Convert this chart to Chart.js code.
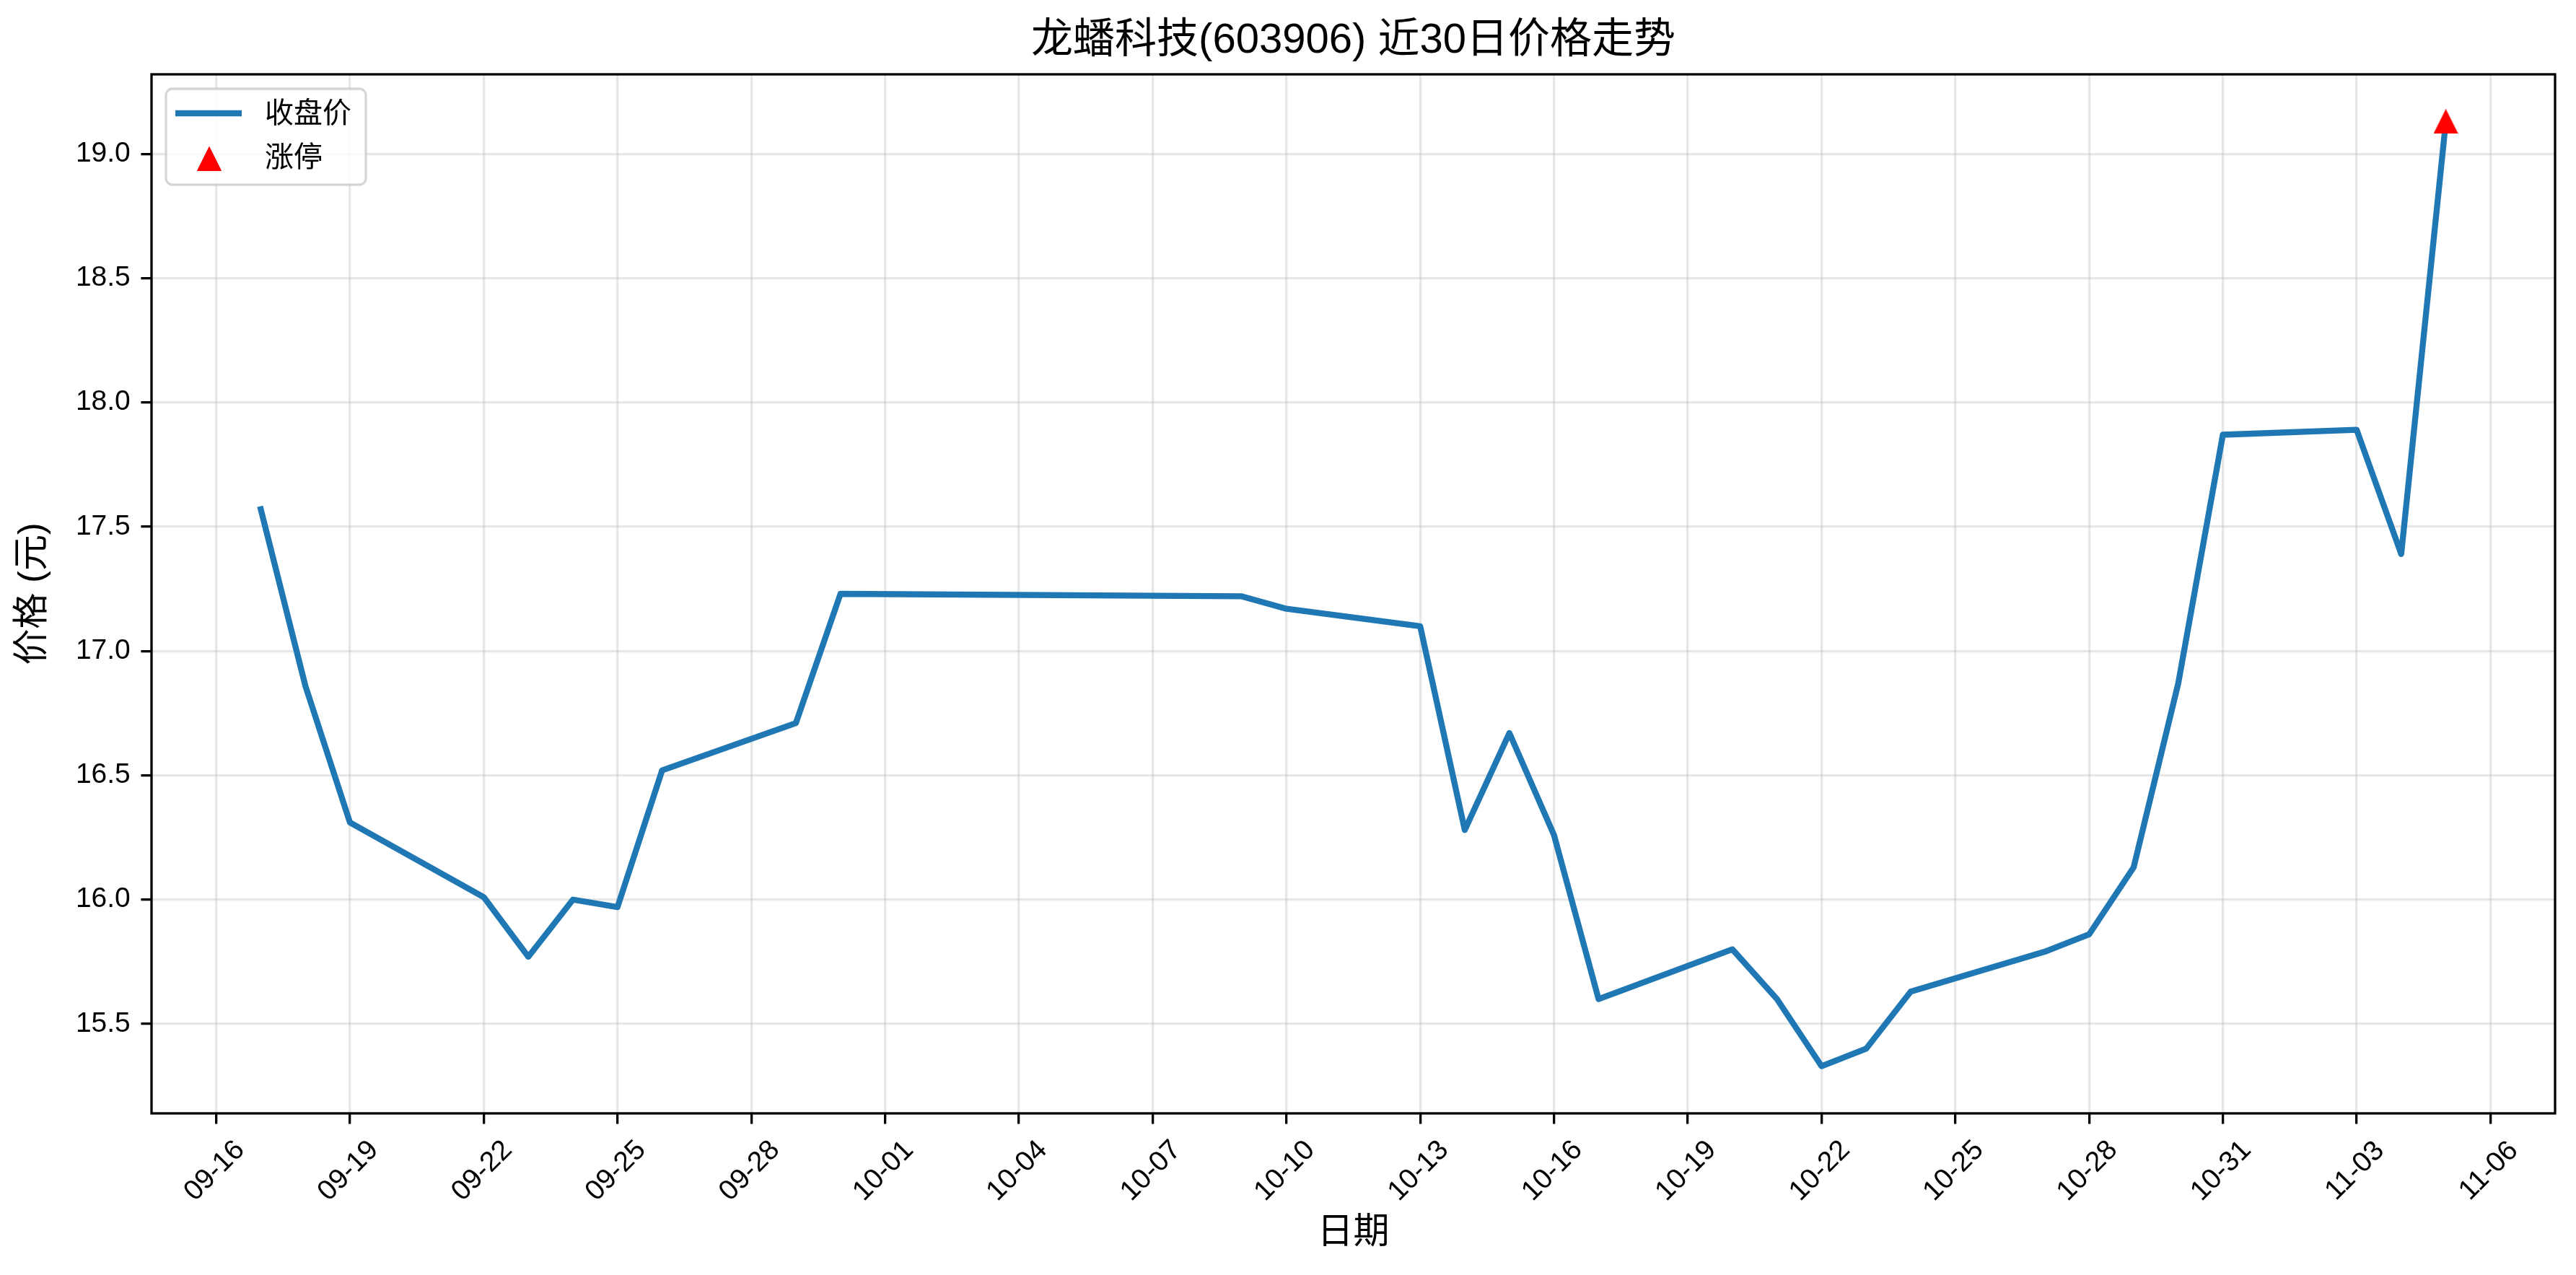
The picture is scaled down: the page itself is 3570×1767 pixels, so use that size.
<html>
<head>
<meta charset="utf-8">
<script src="https://cdn.jsdelivr.net/npm/chart.js"></script>
<style>
  body { margin: 0; background: #fff; }
</style>
</head>
<body>
<canvas id="myChart" width="3570" height="1767"></canvas>
<script>
// trading days and closing prices
const dates = ['09-17','09-18','09-19','09-22','09-23','09-24','09-25','09-26','09-29','09-30',
               '10-09','10-10','10-13','10-14','10-15','10-16','10-17','10-20','10-21','10-22',
               '10-23','10-24','10-27','10-28','10-29','10-30','10-31','11-03','11-04','11-05'];
const closes = [17.57, 16.86, 16.31, 16.01, 15.77, 16.00, 15.97, 16.52, 16.71, 17.23,
                17.22, 17.17, 17.10, 16.28, 16.67, 16.26, 15.60, 15.80, 15.60, 15.33,
                15.40, 15.63, 15.79, 15.86, 16.13, 16.87, 17.87, 17.89, 17.39, 19.13];
// limit-up days
const limitUpDates = ['11-05'];
const limitUpPrices = [19.13];
// axis ticks
const xTickLabels = ['09-16','09-19','09-22','09-25','09-28','10-01','10-04','10-07','10-10',
                     '10-13','10-16','10-19','10-22','10-25','10-28','10-31','11-03','11-06'];
const yTickValues = [15.5, 16.0, 16.5, 17.0, 17.5, 18.0, 18.5, 19.0];

const FONT = "'Liberation Sans', 'Noto Sans CJK SC', sans-serif";
const LINE_COLOR = '#1f77b4';

function dayNum(s) {
    var p = s.split('-');
    return Date.UTC(2025, parseInt(p[0]) - 1, parseInt(p[1])) / 86400000;
}

// matplotlib-like '^' marker as an image, centred on its box
function makeTriangle(size, color) {
    var c = document.createElement('canvas');
    c.width = size; c.height = size;
    var g = c.getContext('2d');
    g.beginPath();
    g.moveTo(size / 2, 0.5);
    g.lineTo(size - 0.5, size - 0.5);
    g.lineTo(0.5, size - 0.5);
    g.closePath();
    g.fillStyle = color;
    g.lineJoin = 'round';
    g.strokeStyle = color;
    g.lineWidth = 1;
    g.fill();
    g.stroke();
    return c;
}
const triangleMarker = makeTriangle(34, 'red');

// matplotlib-like 5% margins
var xFirst = dayNum(dates[0]), xLast = dayNum(dates[dates.length - 1]);
var xPad = (xLast - xFirst) * 0.05;
var allY = closes.concat(limitUpPrices);
var yMin = Math.min.apply(null, allY), yMax = Math.max.apply(null, allY);
var yPad = (yMax - yMin) * 0.05;

// spines, rotated x tick labels, legend
const decorPlugin = {
    id: 'decor',
    afterDraw(chart) {
        const ctx = chart.ctx;
        const a = chart.chartArea;
        const xs = chart.scales.x;

        ctx.save();
        ctx.strokeStyle = '#000';
        ctx.lineWidth = 3.3;
        ctx.strokeRect(a.left, a.top, a.right - a.left, a.bottom - a.top);

        ctx.fillStyle = '#000';
        ctx.font = '39px ' + FONT;
        ctx.textAlign = 'center';
        ctx.textBaseline = 'middle';
        for (var i = 0; i < xTickLabels.length; i++) {
            var px = xs.getPixelForValue(dayNum(xTickLabels[i]));
            ctx.save();
            ctx.translate(px - 2, a.bottom + 80);
            ctx.rotate(-Math.PI / 4);
            ctx.fillText(xTickLabels[i], 0, 0);
            ctx.restore();
        }

        // legend box
        var bx = a.left + 20, by = a.top + 20, bw = 277, bh = 133, r = 9;
        ctx.beginPath();
        ctx.roundRect(bx, by, bw, bh, r);
        ctx.fillStyle = 'rgba(255,255,255,0.8)';
        ctx.fill();
        ctx.strokeStyle = 'rgba(204,204,204,0.8)';
        ctx.lineWidth = 3.3;
        ctx.stroke();

        var ds = chart.data.datasets;
        // line handle
        ctx.beginPath();
        ctx.moveTo(bx + 13, by + 34);
        ctx.lineTo(bx + 105, by + 34);
        ctx.strokeStyle = ds[0].borderColor;
        ctx.lineWidth = 8.3;
        ctx.lineCap = 'butt';
        ctx.stroke();
        // triangle handle
        var m = ds[1].pointStyle;
        ctx.drawImage(m, bx + 60 - m.width / 2, by + 97 - m.height / 2);

        ctx.fillStyle = '#000';
        ctx.font = '40px ' + FONT;
        ctx.textAlign = 'left';
        ctx.textBaseline = 'middle';
        ctx.fillText(ds[0].label, bx + 137, by + 36);
        ctx.fillText(ds[1].label, bx + 137, by + 97);
        ctx.restore();
    }
};

const data = {
    datasets: [{
        type: 'line',
        label: '收盘价',
        data: dates.map((d, i) => ({x: dayNum(d), y: closes[i]})),
        borderColor: LINE_COLOR,
        backgroundColor: LINE_COLOR,
        borderWidth: 8.3,
        borderJoinStyle: 'round',
        borderCapStyle: 'square',
        pointRadius: 0,
        tension: 0,
        order: 1
    }, {
        type: 'scatter',
        label: '涨停',
        data: limitUpDates.map((d, i) => ({x: dayNum(d), y: limitUpPrices[i]})),
        backgroundColor: 'red',
        borderColor: 'red',
        pointStyle: triangleMarker,
        pointRadius: 17,
        order: 0
    }]
};

const config = {
    data: data,
    plugins: [decorPlugin],
    options: {
        responsive: false,
        devicePixelRatio: 1,
        animation: false,
        layout: { padding: { top: 0, left: 0, right: 29, bottom: 0 } },
        plugins: {
            legend: { display: false },
            tooltip: { enabled: false },
            title: {
                display: true,
                text: '龙蟠科技(603906) 近30日价格走势',
                fullSize: false,
                color: '#000',
                font: { family: FONT, size: 58, weight: 'normal', lineHeight: 1.2 },
                padding: { top: 22, bottom: 11.4 }
            }
        },
        scales: {
            x: {
                type: 'linear',
                min: xFirst - xPad,
                max: xLast + xPad,
                afterBuildTicks: s => { s.ticks = xTickLabels.map(l => ({value: dayNum(l)})); },
                afterFit: s => { s.height = 224; },
                ticks: { display: false, callback: (v, i) => xTickLabels[i] },
                grid: {
                    color: 'rgba(176,176,176,0.3)',
                    lineWidth: 3.3,
                    tickColor: '#000',
                    tickWidth: 3.3,
                    tickLength: 14.6
                },
                border: { display: false },
                title: {
                    display: true,
                    text: '日期',
                    color: '#000',
                    font: { family: FONT, size: 50, lineHeight: 1.2 },
                    padding: { top: 0, bottom: 28 }
                }
            },
            y: {
                type: 'linear',
                min: yMin - yPad,
                max: yMax + yPad,
                afterBuildTicks: s => { s.ticks = yTickValues.map(v => ({value: v})); },
                afterFit: s => { s.width = 210; },
                ticks: {
                    color: '#000',
                    font: { family: FONT, size: 39 },
                    padding: 14.6,
                    callback: v => v.toFixed(1)
                },
                grid: {
                    color: 'rgba(176,176,176,0.3)',
                    lineWidth: 3.3,
                    tickColor: '#000',
                    tickWidth: 3.3,
                    tickLength: 14.6
                },
                border: { display: false },
                title: {
                    display: true,
                    text: '价格 (元)',
                    color: '#000',
                    font: { family: FONT, size: 50, lineHeight: 1.2 },
                    padding: { top: 16, bottom: 0 }
                }
            }
        }
    }
};

var myChart = new Chart(document.getElementById('myChart'), config);
</script>
</body>
</html>
